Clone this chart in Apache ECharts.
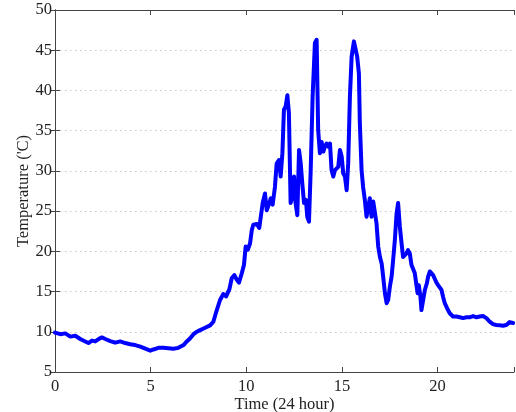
<!DOCTYPE html>
<html>
<head>
<meta charset="utf-8">
<script src="https://cdn.jsdelivr.net/npm/echarts@6/dist/echarts.min.js"></script>
<style>html,body{margin:0;padding:0;background:#fff}#c{width:516px;height:412px}</style>
</head>
<body>
<div id="c"></div>
<script>
const hours = [0,0.28,0.54,0.80,1.06,1.32,1.58,1.75,1.93,2.10,2.28,2.45,2.63,2.89,3.15,3.41,3.67,3.93,4.19,4.46,4.72,4.98,5.15,5.41,5.67,5.93,6.19,6.45,6.72,6.89,7.07,7.24,7.41,7.59,
7.85,8.11,8.28,8.46,8.63,8.80,8.95,9.12,9.24,9.38,9.50,9.62,9.77,9.88,9.97,10.08,10.20,10.29,10.37,10.55,10.68,10.86,10.98,11.07,11.21,11.28,11.38,11.50,11.59,11.71,11.80,11.89,11.97,12.06,12.15,12.23,12.32,12.41,12.50,12.58,12.67,12.76,12.85,12.93,13.02,13.12,13.19,13.28,13.37,13.47,13.59,13.68,13.76,13.85,13.94,14.03,14.11,14.20,14.29,14.38,14.46,14.55,14.64,14.73,14.81,14.90,14.99,15.07,15.16,15.25,15.33,15.42,15.51,15.63,15.72,15.80,15.89,15.94,16.03,16.11,16.20,16.29,16.38,16.46,16.55,16.64,16.73,16.81,16.90,16.99,17.08,17.16,17.25,17.34,17.42,17.51,17.60,17.68,17.77,17.86,17.94,18.03,18.12,18.20,18.29,18.38,18.46,18.55,18.64,18.73,18.81,18.90,18.96,19.02,19.11,19.16,19.25,19.34,19.44,19.51,19.60,19.69,19.77,19.86,19.95,20.03,20.12,20.21,20.29,20.38,20.47,20.55,20.64,20.81,20.99,21.16,21.34,21.51,21.68,21.86,22.04,22.21,22.38,22.56,22.73,22.90,23.07,23.25,23.42,23.60,23.77,23.95];
const temps = [9.9,9.7,9.8,9.4,9.5,9.1,8.8,8.6,8.9,8.8,9.1,9.3,9.1,8.85,8.65,8.8,8.6,8.45,8.35,8.15,7.9,7.65,7.8,8.0,8.0,7.95,7.9,8.0,8.35,8.8,9.2,9.7,10.0,10.2,
10.5,10.8,11.25,12.7,13.95,14.7,14.4,15.3,16.65,17.05,16.5,16.1,17.3,18.3,20.6,20.2,21.0,22.65,23.3,23.4,22.9,26.0,27.2,25.1,26.0,26.6,25.8,28.0,30.9,31.35,29.3,32.2,37.6,38.0,39.4,37.2,26.0,26.8,29.3,26.0,24.5,32.6,30.9,28.45,26.0,26.4,24.3,23.7,30.1,39.2,45.9,46.3,35.1,32.2,33.6,32.4,33.0,33.4,33.0,33.4,30.1,29.3,30.1,30.1,30.5,32.6,31.8,29.7,29.3,27.6,30.9,39.2,44.2,46.1,46.3,44.2,42.1,35.9,30.1,28.0,26.4,24.3,25.5,26.6,24.3,26.2,26.0,23.5,20.6,19.3,18.5,16.85,14.8,13.55,13.95,15.6,16.85,18.9,21.4,24.7,26.0,23.1,21.0,19.3,19.3,19.75,20.15,19.75,18.3,18.3,17.3,15.8,14.8,15.8,14.35,12.7,12.5,15.2,16.0,16.85,17.5,17.35,17.05,16.85,16.1,15.8,15.6,15.2,14.35,13.55,13.1,12.7,12.3,11.9,11.9,11.8,11.7,11.8,11.8,11.95,11.8,11.9,11.95,11.7,11.25,10.95,10.85,10.8,10.75,10.85,11.2,11.1];
const xTicks = [0,5,10,15,20];
const yTicks = [5,10,15,20,25,30,35,40,45,50];

const font = 'Liberation Serif';
const axisColor = '#444';
const chart = echarts.init(document.getElementById('c'));
const tickStyle = {show:true, inside:true, length:5, lineStyle:{color:axisColor, width:1}};
chart.setOption({
  animation:false,
  grid:{left:55, right:2, top:10, bottom:40, containLabel:false, outerBoundsMode:'none'},
  xAxis:[{
    type:'value', min:0, max:24, interval:5,
    name:'Time (24 hour)', nameLocation:'middle', nameGap:24, nameMoveOverlap:false,
    nameTextStyle:{fontFamily:font, fontSize:16.5, color:'#222'},
    axisLine:{show:true, lineStyle:{color:axisColor, width:1}},
    axisTick:tickStyle,
    axisLabel:{fontFamily:font, fontSize:16.5, color:'#222', margin:6,
      formatter:v=>xTicks.includes(v)?String(v):''},
    splitLine:{show:false}
  },{
    type:'value', position:'top', min:0, max:24, interval:5,
    axisLine:{show:true, lineStyle:{color:axisColor, width:1}},
    axisTick:tickStyle, axisLabel:{show:false}, splitLine:{show:false}
  }],
  yAxis:[{
    type:'value', min:5, max:50, interval:5,
    name:"Temperature ('C)", nameLocation:'middle', nameGap:23, nameMoveOverlap:false,
    nameTextStyle:{fontFamily:font, fontSize:16.5, color:'#222'},
    axisLine:{show:true, lineStyle:{color:axisColor, width:1}},
    axisTick:tickStyle,
    axisLabel:{fontFamily:font, fontSize:16.5, color:'#222', margin:3,
      formatter:v=>yTicks.includes(v)?String(v):''},
    splitLine:{show:true, lineStyle:{color:'#c8c8c8', width:1, type:[1.5,3.5]}}
  },{
    type:'value', position:'right', min:5, max:50, interval:5,
    axisLine:{show:true, lineStyle:{color:axisColor, width:1}},
    axisTick:tickStyle, axisLabel:{show:false}, splitLine:{show:false}
  }],
  series:[{
    type:'line', xAxisIndex:0, yAxisIndex:0,
    data:hours.map((h,i)=>[h,temps[i]]),
    showSymbol:false, smooth:false,
    lineStyle:{color:'#0000ff', width:4, join:'round', cap:'round'}
  }]
});
</script>
</body>
</html>
